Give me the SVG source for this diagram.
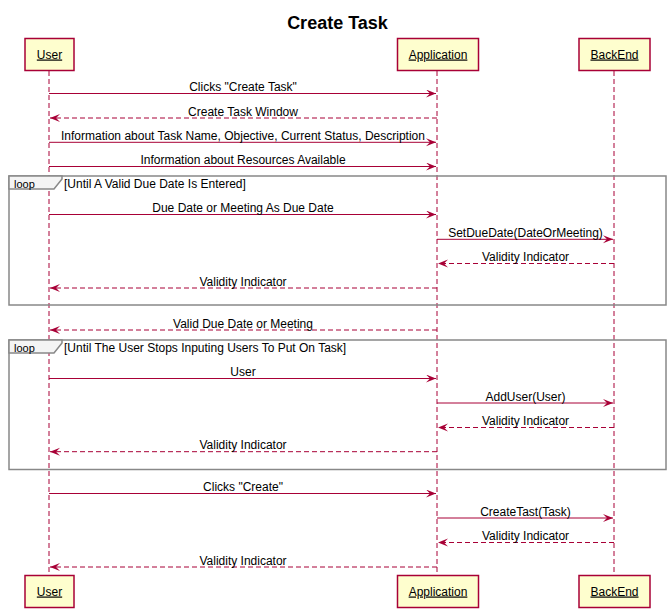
<svg xmlns="http://www.w3.org/2000/svg" width="671" height="612" viewBox="0 0 671 612">
<style>
text{font-family:"Liberation Sans",Arial,sans-serif;fill:#000}
.title{font-size:18px;font-weight:bold}
.pbox{fill:#FEFECE;stroke:#A80036;stroke-width:1.5}
.pname{font-size:12px;text-decoration:underline}
.life{stroke:#A80036;stroke-width:1;stroke-dasharray:5,3;fill:none}
.msg{stroke:#A80036;stroke-width:1;fill:none}
.ret{stroke:#A80036;stroke-width:1;fill:none;stroke-dasharray:5,3}
.lbl{font-size:12px}
.frame{fill:none;stroke:#888888;stroke-width:1.5}
.ftab{fill:#F4F4F4;stroke:#888888;stroke-width:1.5}
.ltxt{font-size:11px}
</style>
<defs>
<marker id="arrR" markerWidth="12" markerHeight="10" refX="10" refY="4" orient="auto" markerUnits="userSpaceOnUse">
<polygon points="0,0 10,4 0,8 4,4" fill="#A80036"/>
</marker>
</defs>
<text class="title" x="337.5" y="29" text-anchor="middle">Create Task</text>

<g id="lifelines">
<line class="life" x1="49" y1="71" x2="49" y2="576"/>
<line class="life" x1="437" y1="71" x2="437" y2="576"/>
<line class="life" x1="614" y1="71" x2="614" y2="576"/>
</g>

<g id="loop1">
<rect class="frame" x="9" y="176" width="657" height="129"/>
<path class="ftab" d="M9,176 H62 V179 L54,189 H9 Z"/>
<text class="ltxt" x="14" y="187.5">loop</text>
<text class="lbl" x="64" y="187.5">[Until A Valid Due Date Is Entered]</text>
</g>
<g id="loop2">
<rect class="frame" x="9" y="340" width="657" height="129.5"/>
<path class="ftab" d="M9,340 H62 V343 L54,353 H9 Z"/>
<text class="ltxt" x="14" y="351.5">loop</text>
<text class="lbl" x="64" y="351.5">[Until The User Stops Inputing Users To Put On Task]</text>
</g>

<g id="user">
<rect class="pbox" x="25" y="38.5" width="49" height="32"/>
<text class="pname" x="49.5" y="58.5" text-anchor="middle">User</text>
<rect class="pbox" x="25" y="575.5" width="49" height="32"/>
<text class="pname" x="49.5" y="595.5" text-anchor="middle">User</text>
</g>
<g id="application">
<rect class="pbox" x="397.5" y="38.5" width="81" height="32"/>
<text class="pname" x="438" y="58.5" text-anchor="middle">Application</text>
<rect class="pbox" x="397.5" y="575.5" width="81" height="32"/>
<text class="pname" x="438" y="595.5" text-anchor="middle">Application</text>
</g>
<g id="backend">
<rect class="pbox" x="579" y="38.5" width="71" height="32"/>
<text class="pname" x="614.5" y="58.5" text-anchor="middle">BackEnd</text>
<rect class="pbox" x="579" y="575.5" width="71" height="32"/>
<text class="pname" x="614.5" y="595.5" text-anchor="middle">BackEnd</text>
</g>

<g id="connectors">
<line class="msg" x1="49" y1="93.5" x2="436" y2="93.5" marker-end="url(#arrR)"/>
<text class="lbl" x="243" y="91" text-anchor="middle">Clicks "Create Task"</text>

<line class="ret" x1="437" y1="118" x2="50" y2="118" marker-end="url(#arrR)"/>
<text class="lbl" x="243" y="115.5" text-anchor="middle">Create Task Window</text>

<line class="msg" x1="49" y1="142.3" x2="436" y2="142.3" marker-end="url(#arrR)"/>
<text class="lbl" x="243" y="140" text-anchor="middle">Information about Task Name, Objective, Current Status, Description</text>

<line class="msg" x1="49" y1="166.5" x2="436" y2="166.5" marker-end="url(#arrR)"/>
<text class="lbl" x="243" y="164" text-anchor="middle">Information about Resources Available</text>

<line class="msg" x1="49" y1="214.5" x2="436" y2="214.5" marker-end="url(#arrR)"/>
<text class="lbl" x="243" y="212" text-anchor="middle">Due Date or Meeting As Due Date</text>

<line class="msg" x1="437" y1="239.3" x2="613" y2="239.3" marker-end="url(#arrR)"/>
<text class="lbl" x="525.5" y="237" text-anchor="middle">SetDueDate(DateOrMeeting)</text>

<line class="ret" x1="614" y1="263.5" x2="438" y2="263.5" marker-end="url(#arrR)"/>
<text class="lbl" x="525.5" y="261" text-anchor="middle">Validity Indicator</text>

<line class="ret" x1="437" y1="288" x2="50" y2="288" marker-end="url(#arrR)"/>
<text class="lbl" x="243" y="285.5" text-anchor="middle">Validity Indicator</text>

<line class="ret" x1="437" y1="330" x2="50" y2="330" marker-end="url(#arrR)"/>
<text class="lbl" x="243" y="327.5" text-anchor="middle">Valid Due Date or Meeting</text>

<line class="msg" x1="49" y1="378.5" x2="436" y2="378.5" marker-end="url(#arrR)"/>
<text class="lbl" x="243" y="376" text-anchor="middle">User</text>

<line class="msg" x1="437" y1="403" x2="613" y2="403" marker-end="url(#arrR)"/>
<text class="lbl" x="525.5" y="400.5" text-anchor="middle">AddUser(User)</text>

<line class="ret" x1="614" y1="427.5" x2="438" y2="427.5" marker-end="url(#arrR)"/>
<text class="lbl" x="525.5" y="425" text-anchor="middle">Validity Indicator</text>

<line class="ret" x1="437" y1="451.7" x2="50" y2="451.7" marker-end="url(#arrR)"/>
<text class="lbl" x="243" y="449" text-anchor="middle">Validity Indicator</text>

<line class="msg" x1="49" y1="493.5" x2="436" y2="493.5" marker-end="url(#arrR)"/>
<text class="lbl" x="243" y="491" text-anchor="middle">Clicks "Create"</text>

<line class="msg" x1="437" y1="518" x2="613" y2="518" marker-end="url(#arrR)"/>
<text class="lbl" x="525.5" y="515.5" text-anchor="middle">CreateTast(Task)</text>

<line class="ret" x1="614" y1="542.5" x2="438" y2="542.5" marker-end="url(#arrR)"/>
<text class="lbl" x="525.5" y="540" text-anchor="middle">Validity Indicator</text>

<line class="ret" x1="437" y1="567" x2="50" y2="567" marker-end="url(#arrR)"/>
<text class="lbl" x="243" y="564.5" text-anchor="middle">Validity Indicator</text>
</g>
</svg>
